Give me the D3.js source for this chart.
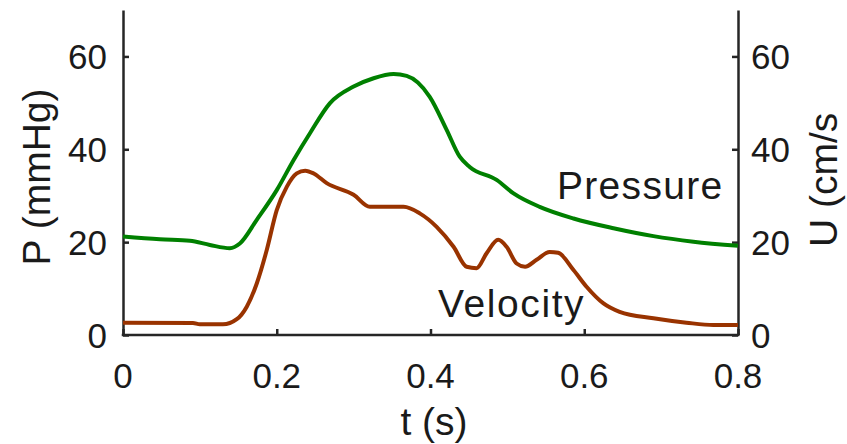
<!DOCTYPE html>
<html>
<meta charset="utf-8">
<style>
body { margin: 0; background: #fff; }
svg text { font-family: "Liberation Sans", Arial, sans-serif; fill: #1a1a1a; }
.axis path, .axis line { stroke: #262626; stroke-width: 2.5; fill: none; }
.line { fill: none; stroke-width: 4; stroke-linejoin: round; stroke-linecap: butt; }
</style>
<body>
<script src="https://d3js.org/d3.v7.min.js"></script>
<script>
// time (s) and pressure (mmHg)
var pTime = [0, 0.048, 0.087, 0.113, 0.139, 0.152, 0.174, 0.2, 0.222, 0.243, 0.269, 0.3, 0.326, 0.352, 0.369,
	0.399, 0.421, 0.438, 0.451, 0.486, 0.508, 0.542, 0.586, 0.638, 0.69, 0.742, 0.8];
var pressure = [21.2, 20.6, 20.3, 19.4, 18.7, 19.7, 24.8, 31.2, 37.7, 43.4, 49.9, 53.5, 55.3, 56.2, 55.8,
	51.3, 44.2, 38.4, 36.2, 33.4, 30.5, 27.6, 25.1, 23.0, 21.3, 20.1, 19.2];

// time (s) and velocity (cm/s)
var uTime = [0, 0.091, 0.1, 0.13, 0.148, 0.161, 0.174, 0.187, 0.2, 0.213, 0.226, 0.237, 0.248, 0.265, 0.3,
	0.321, 0.365, 0.386, 0.408, 0.43, 0.447, 0.46, 0.473, 0.488, 0.499, 0.512, 0.523, 0.538, 0.555, 0.566,
	0.586, 0.603, 0.625, 0.646, 0.69, 0.733, 0.768, 0.8];
var velocity = [2.65, 2.6, 2.3, 2.3, 3.4, 6.1, 11.1, 18.3, 26.9, 31.9, 34.8, 35.4, 34.8, 32.7, 30.2,
	27.6, 27.6, 26.2, 23.3, 19.0, 14.7, 14.4, 17.6, 20.5, 19.0, 15.4, 14.7, 16.2, 17.9, 17.7,
	14.0, 10.4, 6.8, 5.0, 3.6, 2.65, 2.15, 2.15];

var xTicks = [0, 0.2, 0.4, 0.6, 0.8];
var pTicks = [0, 20, 40, 60];
var uTicks = [0, 20, 40, 60];

var W = 847, H = 444;
var mLeft = 123, mRight = 738, mTop = 10, mBottom = 335;

var svg = d3.select("body").append("svg")
	.attr("width", W)
	.attr("height", H);

var x = d3.scaleLinear().domain([0, 0.8]).range([mLeft, mRight]);
var yP = d3.scaleLinear().domain([0, 70]).range([mBottom, mTop]);
var yU = d3.scaleLinear().domain([0, 70]).range([mBottom, mTop]);

var fmtX = function(d) { return d === 0 ? "0" : d3.format(".1f")(d); };
var fmtY = d3.format("d");

// axes, MATLAB style ticks pointing inward
var gx = svg.append("g").attr("class", "axis")
	.attr("transform", "translate(0," + mBottom + ")")
	.call(d3.axisTop(x).tickValues(xTicks).tickSize(6).tickSizeOuter(0).tickFormat(""));
gx.select(".domain").attr("d", "M" + (mLeft - 1.25) + ",0H" + (mRight + 1.25));

svg.append("g").attr("class", "axis")
	.attr("transform", "translate(" + mLeft + ",0)")
	.call(d3.axisRight(yP).tickValues(pTicks).tickSize(6).tickSizeOuter(0).tickFormat(""));

svg.append("g").attr("class", "axis")
	.attr("transform", "translate(" + mRight + ",0)")
	.call(d3.axisLeft(yU).tickValues(uTicks).tickSize(6).tickSizeOuter(0).tickFormat(""));

// tick labels
svg.selectAll(".xl").data(xTicks).enter().append("text")
	.attr("x", function(d) { return x(d); })
	.attr("y", 388)
	.attr("text-anchor", "middle")
	.attr("font-size", "35px")
	.text(fmtX);

svg.selectAll(".pl").data(pTicks).enter().append("text")
	.attr("x", 107)
	.attr("y", function(d) { return yP(d); })
	.attr("dy", "0.36em")
	.attr("text-anchor", "end")
	.attr("font-size", "35px")
	.text(fmtY);

svg.selectAll(".ul").data(uTicks).enter().append("text")
	.attr("x", 751)
	.attr("y", function(d) { return yU(d); })
	.attr("dy", "0.36em")
	.attr("text-anchor", "start")
	.attr("font-size", "35px")
	.text(fmtY);

// axis titles
svg.append("text")
	.attr("transform", "translate(50,177) rotate(-90)")
	.attr("text-anchor", "middle")
	.attr("font-size", "39px")
	.text("P (mmHg)");

svg.append("text")
	.attr("transform", "translate(837,247) rotate(-90)")
	.attr("text-anchor", "start")
	.attr("font-size", "39px")
	.text("U (cm/s");

svg.append("text")
	.attr("x", 434)
	.attr("y", 435)
	.attr("text-anchor", "middle")
	.attr("font-size", "39px")
	.text("t (s)");

// lines
var pLine = d3.line()
	.x(function(d, i) { return x(pTime[i]); })
	.y(function(d) { return yP(d); })
	.curve(d3.curveMonotoneX);

var uLine = d3.line()
	.x(function(d, i) { return x(uTime[i]); })
	.y(function(d) { return yU(d); })
	.curve(d3.curveMonotoneX);

svg.append("path")
	.attr("class", "line")
	.style("stroke", "#008000")
	.attr("d", pLine(pressure));

svg.append("path")
	.attr("class", "line")
	.style("stroke", "#993300")
	.attr("d", uLine(velocity));

// series labels
svg.append("text")
	.attr("x", 557)
	.attr("y", 199)
	.attr("font-size", "39px")
	.attr("letter-spacing", "1.3px")
	.text("Pressure");

svg.append("text")
	.attr("x", 438)
	.attr("y", 317)
	.attr("font-size", "39px")
	.attr("letter-spacing", "1.6px")
	.text("Velocity");
</script>
</body>
</html>
